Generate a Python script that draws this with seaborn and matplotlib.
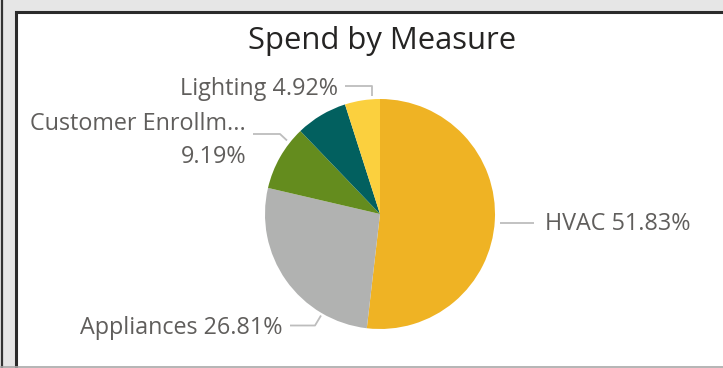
import matplotlib
matplotlib.use("Agg")
import matplotlib.pyplot as plt
import seaborn as sns
from matplotlib.patches import Rectangle

sns.set_theme(style="white")
plt.rcParams['font.family'] = ['Open Sans', 'DejaVu Sans']

# ---- data ----
categories = ["HVAC", "Appliances", "Customer Enrollm...", "Other", "Lighting"]
shares = [51.83, 26.81, 9.19, 7.25, 4.92]
show_label = [True, True, True, False, True]
colors = ["#EFB324", "#B1B2B1", "#648C1E", "#02605F", "#FBD03E"]

W, H = 723, 368
fig = plt.figure(figsize=(W / 100, H / 100), dpi=100)
fig.patch.set_facecolor("#E6E6E6")

# overlay axes in pixel coordinates (y down)
ov = fig.add_axes([0, 0, 1, 1], zorder=0)
ov.set_xlim(0, W)
ov.set_ylim(H, 0)
ov.axis("off")
ov.set_facecolor("none")

# frame
ov.add_patch(Rectangle((16, 12), W, H, facecolor="white", edgecolor="#2B2B2B", lw=2.2))
ov.plot([1.5, 1.5], [0, H], color="#333333", lw=1.6)
ov.plot([0, W], [367, 367], color="#A8A8A8", lw=1.2)

# title
ov.text(382, 41, "Spend by Measure", ha="center", va="center", fontsize=22.3, color="#252423")

# pie
cx, cy, r = 380, 214, 115
pax = fig.add_axes([(cx - r) / W, (H - cy - r) / H, 2 * r / W, 2 * r / H], zorder=1)
pax.set_facecolor("none")
pax.pie(shares, colors=colors, startangle=90, counterclock=False,
        wedgeprops=dict(linewidth=0))
pax.set_xlim(-1, 1)
pax.set_ylim(-1, 1)
pax.set_aspect("equal")
pax.axis("off")

# leader lines and labels (layout)
lc = "#BDBDBD"
tc = "#605E5C"
fs = 16.8
leaders = {
    "HVAC": ([500, 534], [223, 223]),
    "Appliances": ([290, 315, 321], [325.5, 325.5, 315.5]),
    "Customer Enrollm...": ([253, 280, 287], [134, 134, 140.5]),
    "Lighting": ([345, 372, 372], [86, 86, 96]),
}
label_pos = {
    "HVAC": (545, 224, "left"),
    "Appliances": (282, 328, "right"),
    "Customer Enrollm...": (246, 124, "right"),
    "Lighting": (338, 89, "right"),
}
for cat, val, show in zip(categories, shares, show_label):
    if not show:
        continue
    xs, ys = leaders[cat]
    ov.plot(xs, ys, color=lc, lw=1.3, solid_capstyle="butt")
    x, y, ha = label_pos[cat]
    if cat.startswith("Customer"):
        ov.text(x, y, cat, ha=ha, va="center", fontsize=fs, color=tc)
        ov.text(x, y + 33, f"{val:.2f}%", ha=ha, va="center", fontsize=fs, color=tc)
    else:
        ov.text(x, y, f"{cat} {val:.2f}%", ha=ha, va="center", fontsize=fs, color=tc)

fig.savefig("out.png", dpi=100, facecolor=fig.get_facecolor())
